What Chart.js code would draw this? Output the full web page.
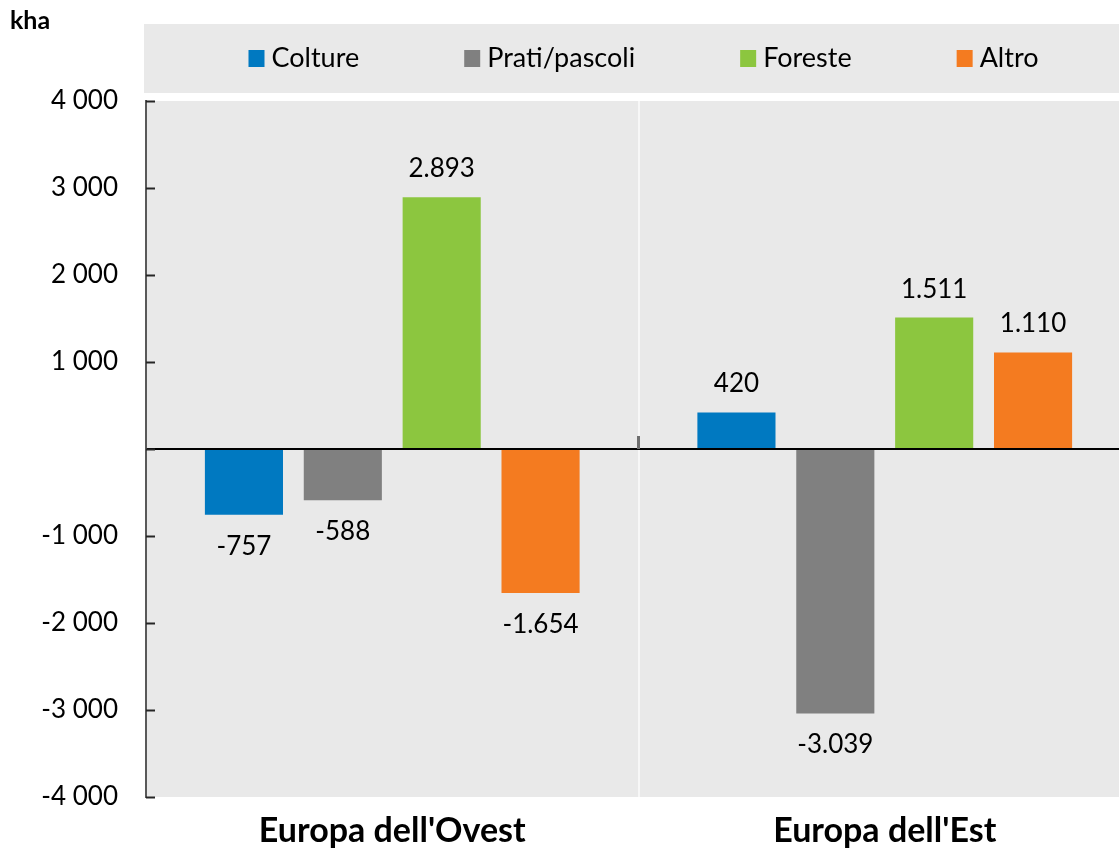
<!DOCTYPE html>
<html lang="it">
<head>
    <meta charset="UTF-8">
    <title>Variazione uso del suolo</title>
    <script src="https://cdn.jsdelivr.net/npm/chart.js@4.4.1/dist/chart.umd.min.js"></script>
    <style>
        body {
            margin: 0;
            overflow: hidden;
            background: #ffffff;
        }

        .wrap {
            width: 1132px;
            height: 852px;
        }
    </style>
</head>
<body>
<div class="wrap">
    <canvas id="myChart"></canvas>
</div>

<script>
    // dati (kha)
    var regions = ["Europa dell'Ovest", "Europa dell'Est"];
    var colture = [-757, 420];
    var pratiPascoli = [-588, -3039];
    var foreste = [2893, 1511];
    var altro = [-1654, 1110];
    var yTicks = [-4000, -3000, -2000, -1000, 0, 1000, 2000, 3000, 4000];

    var FONT = "Lato, 'Open Sans', sans-serif";
    var bgGray = "#e9e9e9";

    function groupDigits(v, sep) {
        var s = String(Math.abs(v)).replace(/\B(?=(\d{3})+(?!\d))/g, sep);
        return (v < 0 ? "-" : "") + s;
    }

    // sfondo grigio dell'area e della legenda, legenda disegnata a mano
    var backgroundPlugin = {
        id: "backgroundPlugin",
        beforeDraw: function (chart) {
            var ctx = chart.ctx;
            var a = chart.chartArea;
            ctx.save();
            ctx.fillStyle = bgGray;
            ctx.fillRect(a.left, a.top, a.right - a.left, a.bottom - a.top);
            ctx.fillRect(a.left - 2, 24, a.right - a.left + 2, 69);

            // legenda
            ctx.font = "27px " + FONT;
            ctx.textBaseline = "middle";
            var ds = chart.data.datasets;
            var box = 16, gap = 7, space = 105;
            var total = 0;
            ds.forEach(function (d, i) {
                total += box + gap + ctx.measureText(d.label).width;
                if (i < ds.length - 1) total += space;
            });
            var x = (a.left + a.right) / 2 + 5 - total / 2;
            var y = 58;
            ds.forEach(function (d) {
                ctx.fillStyle = d.backgroundColor;
                ctx.fillRect(x, y - 8, box, 17);
                ctx.fillStyle = "#000";
                ctx.fillText(d.label, x + box + gap, y);
                x += box + gap + ctx.measureText(d.label).width + space;
            });

            // unita di misura
            ctx.font = "bold 25px " + FONT;
            ctx.textBaseline = "alphabetic";
            ctx.fillStyle = "#000";
            ctx.fillText("kha", 10, 29);
            ctx.restore();
        },
        afterDraw: function (chart) {
            var ctx = chart.ctx;
            var a = chart.chartArea;
            var ys = chart.scales.y;
            var xs = chart.scales.x;
            ctx.save();
            // tacche interne asse y
            ctx.strokeStyle = "#262626";
            ctx.lineWidth = 2;
            yTicks.forEach(function (t) {
                var py = Math.round(ys.getPixelForValue(t)) + 0.5;
                ctx.beginPath();
                ctx.moveTo(a.left, py);
                ctx.lineTo(a.left + 9, py);
                ctx.stroke();
            });
            // tacca fra le categorie sulla linea dello zero
            var zero = ys.getPixelForValue(0);
            var xb = (xs.getPixelForValue(0) + xs.getPixelForValue(1)) / 2;
            ctx.strokeStyle = "#6e6e6e";
            ctx.lineWidth = 3;
            ctx.beginPath();
            ctx.moveTo(xb, zero - 13);
            ctx.lineTo(xb, zero);
            ctx.stroke();
            ctx.restore();
        }
    };

    // etichette dei valori sopra / sotto le barre
    var valueLabels = {
        id: "valueLabels",
        afterDatasetsDraw: function (chart) {
            var ctx = chart.ctx;
            ctx.save();
            ctx.font = "26px " + FONT;
            ctx.fillStyle = "#000";
            ctx.textAlign = "center";
            ctx.textBaseline = "alphabetic";
            chart.data.datasets.forEach(function (d, i) {
                chart.getDatasetMeta(i).data.forEach(function (bar, j) {
                    var v = d.data[j];
                    var txt = groupDigits(v, ".");
                    var py = v >= 0 ? bar.y - 20 : bar.y + 40;
                    ctx.fillText(txt, bar.x, py);
                });
            });
            ctx.restore();
        }
    };

    var ctx = document.getElementById("myChart").getContext("2d");
    var myChart = new Chart(ctx, {
        type: "bar",
        data: {
            labels: regions,
            datasets: [
                {label: "Colture", data: colture, backgroundColor: "#0079c1"},
                {label: "Prati/pascoli", data: pratiPascoli, backgroundColor: "#808080"},
                {label: "Foreste", data: foreste, backgroundColor: "#8cc63f"},
                {label: "Altro", data: altro, backgroundColor: "#f47b20"}
            ]
        },
        options: {
            responsive: true,
            maintainAspectRatio: false,
            animation: false,
            categoryPercentage: 0.803,
            barPercentage: 0.79,
            layout: {padding: {top: 101, right: 1, bottom: 0, left: 0}},
            plugins: {
                legend: {display: false},
                tooltip: {enabled: false}
            },
            scales: {
                x: {
                    grid: {
                        color: "#f7f7f7",
                        lineWidth: 2,
                        drawTicks: false
                    },
                    border: {display: false},
                    ticks: {
                        color: "#000",
                        padding: 14,
                        font: {family: FONT, size: 34, weight: "bold"}
                    },
                    afterFit: function (scale) {
                        scale.height = 55;
                    }
                },
                y: {
                    min: -4000,
                    max: 4000,
                    afterBuildTicks: function (scale) {
                        scale.ticks = yTicks.map(function (v) { return {value: v}; });
                    },
                    afterFit: function (scale) {
                        scale.width = 146;
                    },
                    grid: {
                        color: function (c) {
                            return c.tick && c.tick.value === 0 ? "#000" : "rgba(0,0,0,0)";
                        },
                        lineWidth: 2,
                        drawTicks: false
                    },
                    border: {display: true, color: "#595959", width: 2},
                    ticks: {
                        color: "#000",
                        padding: 28,
                        font: {family: FONT, size: 26},
                        callback: function (v) { return v === 0 ? "" : groupDigits(v, " "); }
                    }
                }
            }
        },
        plugins: [backgroundPlugin, valueLabels]
    });
</script>
</body>
</html>
